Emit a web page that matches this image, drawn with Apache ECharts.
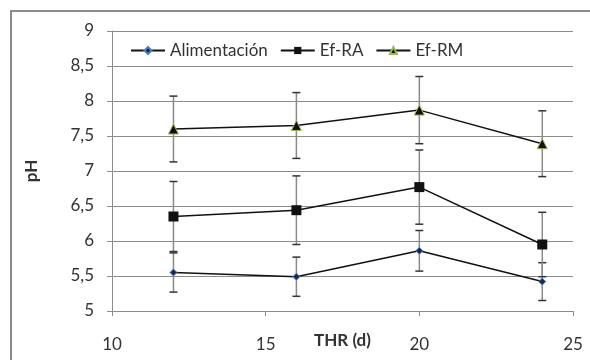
<!DOCTYPE html>
<html>
<head>
<meta charset="utf-8">
<script src="https://cdn.jsdelivr.net/npm/echarts@6/dist/echarts.min.js"></script>
<style>
  html, body { margin: 0; padding: 0; background: #fff; }
  #chart { width: 590px; height: 360px; }
</style>
</head>
<body>
<div id="chart"></div>
<script>
const thr = [12, 16, 20, 24];
const seriesNames = ['Alimentación', 'Ef-RA', 'Ef-RM'];
const alimentacion = [5.55, 5.49, 5.86, 5.42];
const alimentacionErr = [0.28, 0.28, 0.29, 0.27];
const efRA = [6.35, 6.44, 6.77, 5.95];
const efRAErr = [0.5, 0.49, 0.53, 0.46];
const efRM = [7.6, 7.65, 7.87, 7.39];
const efRMErr = [0.47, 0.47, 0.48, 0.47];

const FONT = 'Lato';
const chart = echarts.init(document.getElementById('chart'));

const pairs = (vals) => thr.map((x, i) => [x, vals[i]]);
const errData = (vals, errs) => thr.map((x, i) => [x, vals[i] - errs[i], vals[i] + errs[i]]);

// barras de error
const renderErr = (params, api) => {
  const lo = api.coord([api.value(0), api.value(1)]);
  const hi = api.coord([api.value(0), api.value(2)]);
  const cap = 4;
  return {
    type: 'group',
    children: [
      { type: 'line', shape: { x1: lo[0], y1: lo[1], x2: hi[0], y2: hi[1] }, style: { stroke: '#8a8a8a', lineWidth: 1.5 } },
      { type: 'line', shape: { x1: lo[0] - cap, y1: lo[1], x2: lo[0] + cap, y2: lo[1] }, style: { stroke: '#333', lineWidth: 1.5 } },
      { type: 'line', shape: { x1: hi[0] - cap, y1: hi[1], x2: hi[0] + cap, y2: hi[1] }, style: { stroke: '#333', lineWidth: 1.5 } },
    ],
  };
};

const errSeries = (vals, errs) => ({
  type: 'custom',
  renderItem: renderErr,
  data: errData(vals, errs),
  z: 1,
  silent: true,
});

const option = {
  animation: false,
  graphic: [{
    type: 'rect',
    shape: { x: 11, y: 11, width: 640, height: 400 },
    style: { fill: 'none', stroke: '#8c8c8c', lineWidth: 2 },
  }],
  legend: {
    left: 125,
    top: 37,
    itemGap: 12,
    itemWidth: 34,
    itemHeight: 9,
    textStyle: { fontFamily: FONT, fontSize: 17, color: '#333' },
    data: seriesNames,
  },
  grid: { left: 112, right: 17, top: 31, bottom: 49, outerBoundsMode: 'none' },
  xAxis: {
    type: 'value',
    min: 10,
    max: 25,
    interval: 5,
    name: 'THR (d)',
    nameLocation: 'middle',
    nameGap: 21,
    nameMoveOverlap: false,
    nameTextStyle: { fontFamily: FONT, fontSize: 17, fontWeight: 'bold', color: '#333' },
    axisLine: { lineStyle: { color: '#8c8c8c', width: 1 } },
    axisTick: { show: true, length: 5, lineStyle: { color: '#8c8c8c' } },
    axisLabel: { fontFamily: FONT, fontSize: 17, color: '#333', margin: 25 },
    splitLine: { show: false },
  },
  yAxis: {
    type: 'value',
    min: 5,
    max: 9,
    interval: 0.5,
    name: 'pH',
    nameLocation: 'middle',
    nameGap: 72,
    nameRotate: 90,
    nameMoveOverlap: false,
    nameTextStyle: { fontFamily: FONT, fontSize: 17, fontWeight: 'bold', color: '#333' },
    axisLine: { show: true, lineStyle: { color: '#8c8c8c', width: 1 } },
    axisTick: { show: true, length: 5, lineStyle: { color: '#8c8c8c' } },
    axisLabel: {
      fontFamily: FONT,
      fontSize: 17,
      color: '#333',
      margin: 18,
      formatter: (v) => String(v).replace('.', ','),
    },
    splitLine: { lineStyle: { color: '#8c8c8c', width: 1 } },
  },
  series: [
    errSeries(alimentacion, alimentacionErr),
    errSeries(efRA, efRAErr),
    errSeries(efRM, efRMErr),
    {
      name: 'Alimentación',
      type: 'line',
      data: pairs(alimentacion),
      symbol: 'diamond',
      symbolSize: 7,
      lineStyle: { color: '#111', width: 1.5 },
      itemStyle: { color: '#1a2a4a', borderColor: '#4f81bd', borderWidth: 1 },
      z: 3,
    },
    {
      name: 'Ef-RA',
      type: 'line',
      data: pairs(efRA),
      symbol: 'rect',
      symbolSize: 10,
      lineStyle: { color: '#111', width: 1.5 },
      itemStyle: { color: '#111', borderColor: '#111', borderWidth: 0 },
      z: 3,
    },
    {
      name: 'Ef-RM',
      type: 'line',
      data: pairs(efRM),
      symbol: 'triangle',
      symbolSize: 10,
      lineStyle: { color: '#111', width: 1.5 },
      itemStyle: { color: '#111', borderColor: '#9bbb59', borderWidth: 1 },
      z: 3,
    },
  ],
};

chart.setOption(option);
</script>
</body>
</html>
